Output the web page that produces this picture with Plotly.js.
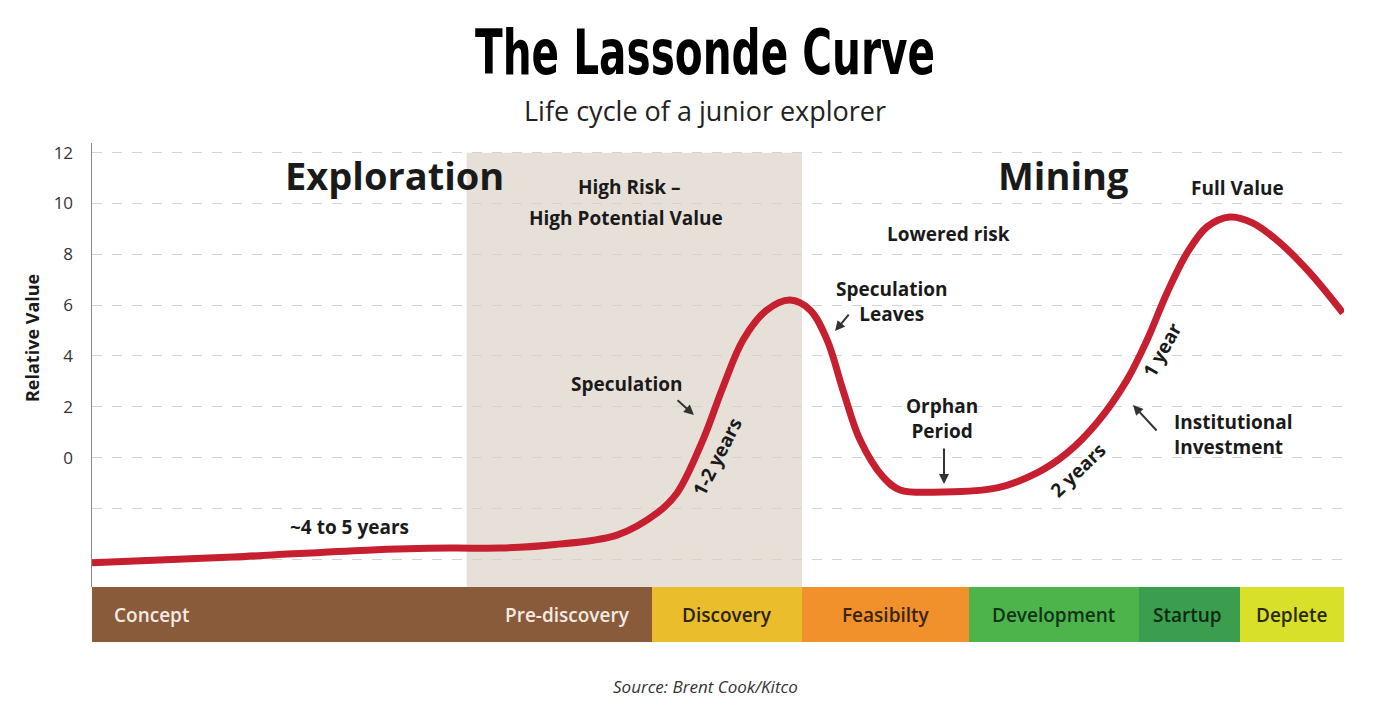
<!DOCTYPE html>
<html>
<head>
<meta charset="utf-8">
<script src="https://cdn.plot.ly/plotly-3.0.1.min.js"></script>
<style>html,body{margin:0;padding:0;background:#fff;}#chart{width:1377px;height:713px;}</style>
</head>
<body>
<div id="chart"></div>
<script>
// ---- data ----
var curveX = [0, 11.26, 21.96, 28.59, 32.59, 36.58, 41.93, 45.13, 46.73, 48.80, 50.40, 52.00, 53.91, 55.75, 57.35, 58.71, 59.98, 61.34, 63.18, 64.54, 67.97, 72.28, 75.48, 77.88, 80.27, 82.67, 84.27, 85.86, 87.46, 89.06, 90.89, 92.73, 94.89, 97.28, 99.92];
var curveY = [-4.14, -3.91, -3.64, -3.56, -3.56, -3.44, -3.05, -2.18, -1.39, 0.70, 2.78, 4.63, 5.81, 6.20, 5.81, 4.63, 2.66, 0.70, -0.76, -1.27, -1.35, -1.19, -0.60, 0.18, 1.37, 3.06, 4.63, 6.48, 8.05, 9.08, 9.47, 9.23, 8.45, 7.27, 5.69];

var phaseNames = ["Concept", "Pre-discovery", "Discovery", "Feasibilty", "Development", "Startup", "Deplete"];
var phaseStart = [0, 22.35, 44.70, 56.71, 70.05, 83.60, 91.69];
var phaseEnd   = [22.35, 44.70, 56.71, 70.05, 83.60, 91.69, 100];

var highRiskZone = [29.93, 56.71];

var yTickVals = [-4, -2, 0, 2, 4, 6, 8, 10, 12];
var yTickText = ["", "", "0", "2", "4", "6", "8", "10", "12"];

// ---- styles ----
var phaseColors = ["#8a5b3a", "#8a5b3a", "#e9bd2c", "#f0912b", "#4cb44a", "#3b9e4e", "#d9e02a"];
var phaseTextColors = ["#f3ebe3", "#f3ebe3", "#2b2410", "#3a2410", "#12331a", "#0f2a15", "#2a2a0a"];
var phaseLabelX = [1.6, 38.0, 50.7, 63.4, 76.8, 87.5, 95.8];
var phaseLabelAnchor = ["left", "center", "center", "center", "center", "center", "center"];

var FONT = "'Open Sans', 'Noto Sans', sans-serif";

var traces = [
  {
    type: "scatter", mode: "lines",
    x: curveX, y: curveY,
    line: {color: "#c61f30", width: 7, shape: "spline", smoothing: 1},
    hoverinfo: "skip", xaxis: "x", yaxis: "y"
  },
  {
    type: "bar", orientation: "h",
    y: phaseNames.map(function(){return 0;}),
    base: phaseStart,
    x: phaseStart.map(function(s, i){return phaseEnd[i] - s;}),
    width: 1,
    marker: {color: phaseColors, line: {width: 0}},
    hoverinfo: "skip", xaxis: "x", yaxis: "y2"
  }
];

var ann = [];
function txt(t, x, y, size, opts) {
  var a = {text: t, x: x, y: y, xref: "x", yref: "y", showarrow: false,
           font: {family: FONT, size: size, color: "#1a1a1a", weight: 700}};
  for (var k in opts) a[k] = opts[k];
  ann.push(a);
}
function arrow(x0, y0, x1, y1) {
  ann.push({text: "", x: x1, y: y1, ax: x0, ay: y0, xref: "x", yref: "y", axref: "x", ayref: "y",
            showarrow: true, arrowhead: 2, arrowsize: 1, arrowwidth: 2, arrowcolor: "#333"});
}

var S = 19;
txt("Exploration", 24.2, 11.12, 38);
txt("Mining", 77.56, 11.12, 38);
txt("High Risk –", 42.97, 10.64, S);
txt("High Potential Value", 42.65, 9.42, S);
txt("Lowered risk", 68.45, 8.8, S);
txt("Full Value", 91.53, 10.6, S);
txt("Speculation<br>Leaves", 63.9, 6.14, S);
arrow(60.54, 5.69, 59.35, 4.98);
txt("Speculation", 42.73, 2.9, S);
arrow(46.65, 2.31, 48.08, 1.68);
txt("1-2 years", 49.92, 0.03, S, {textangle: -63});
txt("Orphan<br>Period", 67.9, 1.56, S);
arrow(68.05, 0.42, 68.05, -1.04);
txt("2 years", 78.75, -0.48, S, {textangle: -44});
txt("1 year", 85.46, 4.24, S, {textangle: -61});
txt("Institutional<br>Investment", 86.26, 0.93, S, {xanchor: "left", align: "left"});
arrow(85.14, 1.01, 83.15, 2.07);
txt("~4 to 5 years", 20.53, -2.73, S);

phaseNames.forEach(function(n, i) {
  ann.push({text: n, x: phaseLabelX[i], y: 0, xref: "x", yref: "y2", xanchor: phaseLabelAnchor[i],
            showarrow: false, font: {family: FONT, size: 19, color: phaseTextColors[i], weight: 600}});
});

ann.push({text: "Life cycle of a junior explorer", xref: "paper", yref: "paper", x: 0.49, y: 1.066,
          xanchor: "center", yanchor: "middle",
          showarrow: false, font: {family: FONT, size: 27, color: "#222"}});
ann.push({text: "Source: Brent Cook/Kitco", xref: "paper", yref: "paper", x: 0.49, y: -0.09,
          xanchor: "center", yanchor: "middle",
          showarrow: false, font: {family: FONT, size: 17, color: "#333", style: "italic"}});
ann.push({text: "Relative Value", xref: "paper", yref: "paper", x: -0.048, y: 0.609, textangle: -90,
          xanchor: "center", yanchor: "middle",
          showarrow: false, font: {family: FONT, size: 18, color: "#1a1a1a", weight: 700}});

var layout = {
  width: 1377, height: 713,
  margin: {l: 92, r: 33, t: 143, b: 71},
  paper_bgcolor: "#fff", plot_bgcolor: "rgba(0,0,0,0)",
  showlegend: false,
  title: {text: "The Lassonde Curve", xref: "container", yref: "container", x: 0.512, y: 0.927,
          xanchor: "center", yanchor: "middle",
          font: {family: "'DejaVu Sans', sans-serif", size: 63, color: "#000", weight: 700}},
  xaxis: {range: [0, 100], showgrid: false, zeroline: false, showticklabels: false, ticks: "", showline: false, fixedrange: true},
  yaxis: {domain: [0.1102, 1], range: [-5.09, 12.38], tickvals: yTickVals, ticktext: yTickText,
          showgrid: true, gridcolor: "#d3d3d3", griddash: "10px,10px", gridwidth: 1, zeroline: false,
          showline: true, linecolor: "#8a8a8a", linewidth: 1.5, ticks: "", ticklabelstandoff: 14,
          tickfont: {family: FONT, size: 17, color: "#333"}, fixedrange: true},
  yaxis2: {domain: [0, 0.1102], range: [-0.5, 0.5], showgrid: false, zeroline: false, showticklabels: false,
           showline: false, fixedrange: true},
  shapes: [{type: "rect", xref: "x", yref: "y", x0: highRiskZone[0], x1: highRiskZone[1], y0: -5.09, y1: 12,
            fillcolor: "#e7e0d9", line: {width: 0}, layer: "below"}],
  annotations: ann,
  bargap: 0
};

Plotly.newPlot("chart", traces, layout, {displayModeBar: false, staticPlot: true}).then(function() {
  // condense the title glyphs horizontally to mimic the narrow display face
  var t = document.querySelector(".gtitle");
  if (t) {
    t.setAttribute("textLength", "460");
    t.setAttribute("lengthAdjust", "spacingAndGlyphs");
  }
});
</script>
</body>
</html>
